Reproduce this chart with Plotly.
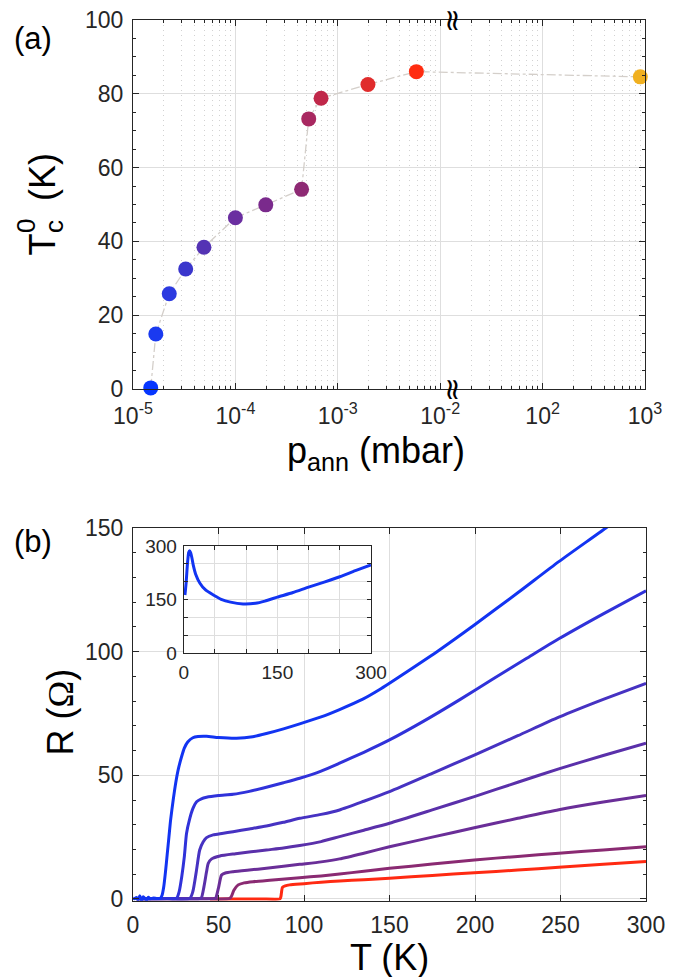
import numpy as np
import plotly.graph_objects as go

W, H = 679, 977
OFF = 8  # page body margin in the browser
FW, FH = W - OFF, H - OFF

# ---------------- Panel (a) data ----------------
p_ann = [1.49e-5, 1.67e-5, 2.26e-5, 3.27e-5, 4.93e-5, 1.0e-4, 1.98e-4,
         4.43e-4, 5.2e-4, 6.86e-4, 1.97e-3, 5.85e-3, 900.0]
Tc0 = [0.3, 14.9, 25.8, 32.5, 38.4, 46.4, 49.9, 54.1, 73.2, 78.8, 82.5, 86.0, 84.6]
marker_colors = ["#0636ff", "#1a3af0", "#2c3ae0", "#3a36cc", "#5433b4", "#6a2ea0",
                 "#7a2a8c", "#8e2a74", "#a82860", "#c0284a", "#e02c2c", "#ff2c10", "#f0b020"]
xtick_exp = [-5, -4, -3, -2, 2, 3]
xtick_text = ["10<sup>-5</sup>", "10<sup>-4</sup>", "10<sup>-3</sup>",
              "10<sup>-2</sup>", "10<sup>2</sup>", "10<sup>3</sup>"]

# ---------------- Panel (b) data ----------------
T1 = [0, 1, 2, 3, 4, 5, 6, 7, 8, 9, 10, 12, 14, 16, 17, 18, 19, 20, 21, 22, 23.5, 25, 26.5, 28.4, 30, 32, 35,
      38, 43, 50, 60.5, 70, 78, 88, 97.5, 110, 120.8, 134.4, 144, 160, 179, 199.6, 225, 249, 276.5, 300]
R1 = [0.4, 0.1, 0.6, -0.3, 1.3, -0.6, 0.9, 0.2, -0.4, 0.7, 0.1, 0.4, 0.2, 0.3, 1.5, 5, 11, 18, 25, 32, 40, 47,
      52.5, 57.5, 61, 63.5, 65.2, 65.7, 65.8, 65.3, 65.0, 65.6, 66.9, 68.8, 70.8, 73.6, 76.6, 80.8, 84.6,
      91.8, 100.6, 110.8, 123.8, 136.4, 150.0, 162.0]
T2 = [2, 10, 20, 25.5, 27, 28.5, 30, 31.3, 33, 35, 37.2, 40, 43, 50, 58.5, 68, 78, 88, 97.5, 110, 120.8,
      135, 150, 170, 190.9, 210, 230, 249, 275, 300]
R2 = [0.2, 0.1, 0.2, 0.3, 3, 9, 17, 26.5, 32, 36.5, 39.3, 40.5, 41.1, 41.8, 42.3, 43.5, 45.2, 47.0, 48.8,
      51.7, 54.9, 59.3, 64.3, 71.9, 80.5, 88.7, 97.2, 105.2, 115.3, 124.6]
T3 = [2, 20, 33.3, 35, 37, 39, 41, 43, 46.9, 52, 58.5, 68, 78, 88, 97.5, 110, 120.8, 135, 150, 175,
      199.6, 225, 249, 275, 300]
R3 = [0.1, 0.2, 0.3, 3, 11, 19.8, 23, 24.8, 25.9, 26.5, 27.2, 28.3, 29.5, 31.0, 32.6, 34.2, 36.0, 39.5,
      43.4, 50.8, 58.2, 66.0, 73.5, 80.7, 87.2]
T4 = [2, 20, 39, 40, 41.5, 43, 44, 46, 50.8, 60, 78, 88, 97.5, 110, 120.8, 135, 150, 175, 199.6, 225,
      249, 275, 300]
R4 = [0.1, 0.1, 0.2, 0.5, 5, 11, 14.4, 16.2, 17.4, 18.3, 19.8, 20.6, 21.6, 23.2, 25.2, 27.8, 30.6, 36.0,
      41.4, 47.2, 52.6, 58.0, 63.0]
T5 = [2, 20, 40, 48, 48.5, 50, 51.8, 54, 58.5, 68, 78, 88, 97.5, 110, 120.8, 135, 150, 175, 199.6, 225,
      249, 275, 300]
R5 = [0.1, 0.1, 0.1, 0.2, 0.5, 4.5, 9.7, 10.5, 11.0, 11.7, 12.4, 13.2, 14.0, 15.0, 16.2, 18.5, 21.1,
      25.0, 28.8, 32.6, 36.1, 39.2, 41.8]
T6 = [2, 20, 40, 56.5, 57.5, 59, 61.5, 65, 70.2, 80, 97.5, 110, 120.8, 135, 150, 175, 199.6, 225, 249,
      275, 300]
R6 = [0.1, 0.1, 0.1, 0.2, 1, 3.5, 5.7, 6.5, 7.0, 7.6, 8.6, 9.3, 10.1, 11.2, 12.4, 14.1, 15.8, 17.2,
      18.5, 19.8, 21.1]
T7 = [45, 60, 75, 86, 86.5, 87.4, 89, 91.6, 100, 110, 120.8, 135, 150, 175, 199.6, 225, 249, 275, 300]
R7 = [0.0, 0.0, 0.0, 0.1, 1.0, 4.7, 5.3, 5.7, 6.2, 6.8, 7.3, 7.8, 8.4, 9.5, 10.6, 11.7, 12.8, 14.0, 15.1]
curve_colors = ["#1234f2", "#3032da", "#4632c2", "#5a30aa", "#6a2e98", "#8a2a72", "#ff2a12"]

# inset data (lowest pressure sample)
T_in = [2, 4, 6, 8, 9.5, 11, 13, 15.5, 19, 26, 35, 47.5, 60, 75, 95, 115, 130, 150, 175, 200, 225,
        250, 275, 300]
R_in = [163, 200, 250, 282, 287, 282, 268, 245, 222, 196, 177, 163, 151, 143, 138, 140, 146, 157, 170,
        185, 199, 214, 231, 247]

# ---------------- helpers ----------------
def px_x(v):
    return (v - OFF) / FW

def px_y(v):
    return 1 - (v - OFF) / FH

def broken_u(p):
    # broken log axis: left part log10(p), right part shifted by 3 decades
    lp = np.log10(p)
    return lp if p <= 1e-2 else lp - 3

u_vals = [broken_u(p) for p in p_ann]
tick_u = [e if e <= -2 else e - 3 for e in xtick_exp]
minor_u = [d + np.log10(k) for d in range(-5, 0) for k in range(2, 10)]

FONT = "Arial, Liberation Sans, sans-serif"
AX = "#262626"
GRID = "#dedede"

fig = go.Figure()

# ---- panel (a)
fig.add_trace(go.Scatter(
    x=u_vals, y=Tc0, mode="lines", xaxis="x", yaxis="y",
    line=dict(color="#d4cfca", width=1.3, dash="dashdot"), hoverinfo="skip", showlegend=False))
fig.add_trace(go.Scatter(
    x=u_vals, y=Tc0, mode="markers", xaxis="x", yaxis="y", cliponaxis=False,
    marker=dict(size=15, color=marker_colors, line=dict(width=0)), showlegend=False))

# ---- panel (b)
curves = [(T7, R7), (T6, R6), (T5, R5), (T4, R4), (T3, R3), (T2, R2), (T1, R1)]
cols = curve_colors[::-1]
for (tt, rr), c in zip(curves, cols):
    fig.add_trace(go.Scatter(x=tt, y=rr, mode="lines", xaxis="x2", yaxis="y2",
                             line=dict(color=c, width=3, shape="spline", smoothing=0.6),
                             showlegend=False))

# ---- inset
fig.add_trace(go.Scatter(x=T_in, y=R_in, mode="lines", xaxis="x3", yaxis="y3",
                         line=dict(color="#1234f2", width=3, shape="spline", smoothing=0.6),
                         showlegend=False))

common = dict(showline=True, linecolor=AX, linewidth=1, mirror="ticks", ticks="inside",
              tickcolor=AX, tickwidth=1, ticklen=6, zeroline=False, automargin=False,
              ticklabeloverflow="allow",
              tickfont=dict(family=FONT, size=23, color=AX), gridcolor=GRID, gridwidth=1)

yb_bottom = 899 + 1.7
fig.update_layout(
    width=FW, height=FH, margin=dict(l=0, r=0, t=0, b=0, pad=0, autoexpand=False),
    paper_bgcolor="white", plot_bgcolor="white",
    xaxis=dict(common, domain=[px_x(133), px_x(645)], range=[-5, 0], anchor="y",
               tickmode="array", tickvals=tick_u, ticktext=xtick_text, ticklabelstandoff=6,
               minor=dict(tickmode="array", tickvals=minor_u, ticks="inside", ticklen=3,
                          tickcolor=AX, showgrid=True, gridcolor="#d2d2d2", griddash="1px,4px",
                          gridwidth=1)),
    yaxis=dict(common, domain=[px_y(389), px_y(20)], range=[0, 100], anchor="x", ticklabelstandoff=4,
               tickvals=[0, 20, 40, 60, 80, 100],
               minor=dict(dtick=5, ticks="inside", ticklen=3, tickcolor=AX, showgrid=False)),
    xaxis2=dict(common, domain=[px_x(133), px_x(646)], range=[0, 300], anchor="y2", dtick=50,
                ticklabelstandoff=4),
    yaxis2=dict(common, domain=[px_y(yb_bottom), px_y(528)], range=[-0.7, 150], anchor="x2",
                tickvals=[0, 50, 100, 150], ticklabelstandoff=4,
                minor=dict(dtick=10, tick0=0, ticks="inside", ticklen=3, tickcolor=AX, showgrid=False)),
    xaxis3=dict(common, domain=[px_x(183.7), px_x(371)], range=[0, 300], anchor="y3",
                tickvals=[0, 50, 100, 150, 200, 250, 300], ticktext=["0", "", "", "150", "", "", "300"],
                ticklen=4, tickfont=dict(family=FONT, size=19, color=AX), ticklabelstandoff=2),
    yaxis3=dict(common, domain=[px_y(653.3), px_y(546)], range=[0, 300], anchor="x3",
                tickvals=[0, 50, 100, 150, 200, 250, 300], ticktext=["0", "", "", "150", "", "", "300"],
                ticklen=4, tickfont=dict(family=FONT, size=19, color=AX), ticklabelstandoff=2),
)

ann = []
def A(text, x, y, size, angle=0, xanchor="center", yanchor="middle", family=FONT):
    ann.append(dict(text=text, x=px_x(x), y=px_y(y), xref="paper", yref="paper", showarrow=False,
                    xanchor=xanchor, yanchor=yanchor, textangle=angle,
                    font=dict(family=family, size=size, color="black")))

A("(a)", 12, 38, 31, xanchor="left")
A("(b)", 12, 541, 31, xanchor="left")
# y title (a): T_c^0 (K)
A("T", 42.5, 245, 36, angle=-90)
A("0", 26, 226, 26, angle=-90)
A("c", 54, 227, 26, angle=-90)
A("(K)", 43, 177, 36, angle=-90)
# x title (a)
A("p<sub>ann</sub> (mbar)", 376, 453, 36)
# panel (b) titles
A("T (K)", 389, 957.5, 36)
A("R (<span style='font-family:Liberation Serif, Times New Roman, serif'>Ω</span>)", 59.5, 712, 36, angle=-90)
# axis break marks
A("≈", 454, 20, 30, angle=90, family="DejaVu Sans")
A("≈", 454, 389, 30, angle=90, family="DejaVu Sans")

fig.update_layout(annotations=ann)
fig.write_html("out.html")
